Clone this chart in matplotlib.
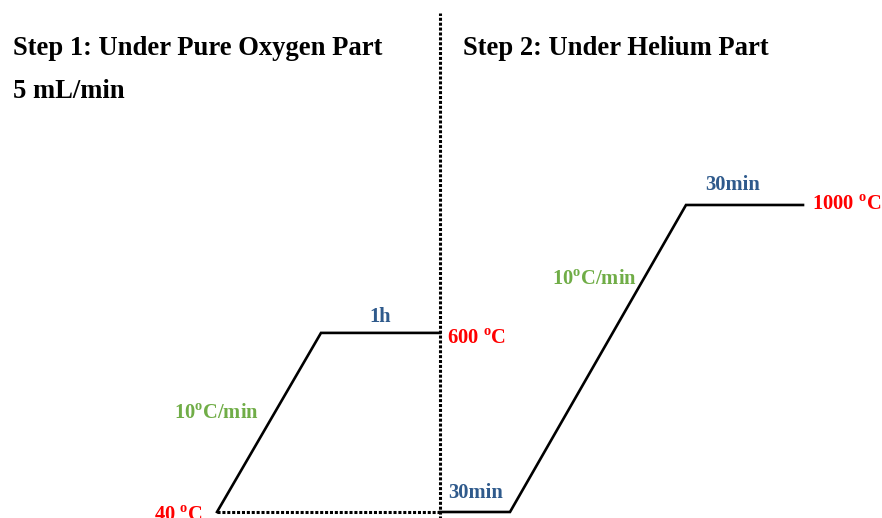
import matplotlib
matplotlib.use("Agg")
import matplotlib.pyplot as plt
import numpy as np

plt.rcParams['font.family'] = 'Liberation Serif'
plt.rcParams['font.weight'] = 'bold'
plt.rcParams['mathtext.fontset'] = 'custom'
plt.rcParams['mathtext.rm'] = 'Liberation Serif:bold'
plt.rcParams['mathtext.bf'] = 'Liberation Serif:bold'

# perfil de temperatura (larguras esquemáticas, não em escala de tempo)
step1_x = [217, 321, 440]
step1_temp = [40, 600, 600]
step2_x = [440, 510, 686, 803]
step2_temp = [40, 40, 1000, 1000]
divider_x = 440

RED = '#FF0000'
BLUE = '#2F5A8C'
GREEN = '#70AD47'
deg = r'$^{\mathrm{o}}$'

fig = plt.figure(figsize=(8.82, 5.18), dpi=100)
ax = fig.add_axes([0, 0, 1, 1])
ax.set_xlim(0, 882)
ax.set_ylim(21.2, 1641)
ax.axis('off')

ax.plot(step1_x, step1_temp, color='black', lw=1.9, solid_joinstyle='miter')
ax.plot(step2_x, step2_temp, color='black', lw=1.9, solid_joinstyle='miter')
# linhas pontilhadas
ax.plot([step1_x[0], divider_x], [step1_temp[0], step1_temp[0]], color='black', lw=2.2, ls=(0, (1, 0.6)))
ax.plot([divider_x, divider_x], [step1_temp[0] - 30, 1600], color='black', lw=2.2, ls=(0, (1, 0.6)))

fs_title = 19.2
ax.text(13, 1489, 'Step 1: Under Pure Oxygen Part', fontsize=fs_title, va='center', ha='left')
ax.text(13, 1354, '5 mL/min', fontsize=fs_title, va='center', ha='left')
ax.text(463, 1489, 'Step 2: Under Helium Part', fontsize=fs_title, va='center', ha='left')

fs = 14.8
ax.text(203, step1_temp[0] - 11, '40 ' + deg + 'C', color=RED, fontsize=fs, ha='right', va='center')
ax.text(447, step1_temp[1] - 20, '600 ' + deg + 'C', color=RED, fontsize=fs, ha='left', va='center')
ax.text(812, step2_temp[-1], '1000 ' + deg + 'C', color=RED, fontsize=fs, ha='left', va='center')

ax.text(380, step1_temp[1] + 20, '1h', color=BLUE, fontsize=fs, ha='center', va='bottom')
ax.text(476, step2_temp[0] + 28, '30min', color=BLUE, fontsize=fs, ha='center', va='bottom')
ax.text(733, step2_temp[-1] + 30, '30min', color=BLUE, fontsize=fs, ha='center', va='bottom')

ax.text(216, 345, '10' + deg + 'C/min', color=GREEN, fontsize=fs, ha='center', va='center')
ax.text(594, 765, '10' + deg + 'C/min', color=GREEN, fontsize=fs, ha='center', va='center')

fig.savefig('out.png', dpi=100)
